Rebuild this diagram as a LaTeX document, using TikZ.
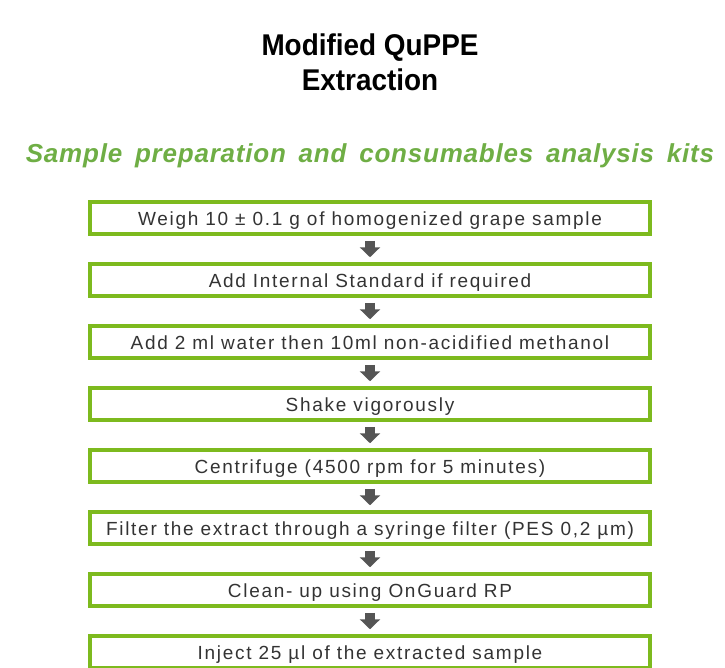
\documentclass[tikz,border=0pt]{standalone}
\usepackage{fontspec}
\setmainfont{Liberation Sans}
\newfontfamily\subfont[WordSpace=1.6,LetterSpace=3]{Liberation Sans}
\usetikzlibrary{arrows.meta}
\definecolor{boxgreen}{HTML}{7DBA1E}
\definecolor{subgreen}{HTML}{6FAE45}
\definecolor{arrowgray}{HTML}{555555}
\definecolor{textgray}{HTML}{333333}
\tikzset{stepbox/.style={draw=boxgreen,line width=3.5pt,minimum width=560pt,minimum height=32pt,inner sep=0pt,text height=15pt,text depth=0pt,text=textgray,font=\fontsize{19}{22}\selectfont\addfontfeature{LetterSpace=9}},
flowarrow/.style={arrowgray,line width=10pt,-{Triangle[width=20pt,length=10pt]},shorten <=5pt,shorten >=5pt}}
\begin{document}
\begin{tikzpicture}[x=1pt,y=-1pt]
\useasboundingbox(0,0)rectangle(725,667);
\node[font=\fontsize{30}{35}\selectfont\bfseries\addfontfeature{FakeStretch=0.93},align=center](title)at(370,62){Modified QuPPE\\Extraction};
\node[font=\subfont\fontsize{26}{30}\selectfont\bfseries\itshape,text=subgreen](sub)at(370,156){Sample preparation and consumables analysis kits};
\foreach\t[count=\i]in{{Weigh 10 ± 0.1 g of homogenized grape sample},{Add Internal Standard if required},{Add 2 ml water then 10ml non-acidified methanol},{Shake vigorously},{Centrifuge (4500 rpm for 5 minutes)},{Filter the extract through a syringe filter (PES 0,2 µm)},{Clean- up using OnGuard RP},{Inject 25 µl of the extracted sample}}
  \node[stepbox](s\i)at(370,156+62*\i){\t};
\foreach\i[evaluate=\i as\j using int(\i+1)]in{1,...,7}\draw[flowarrow](s\i)--(s\j);
\end{tikzpicture}
\end{document}
